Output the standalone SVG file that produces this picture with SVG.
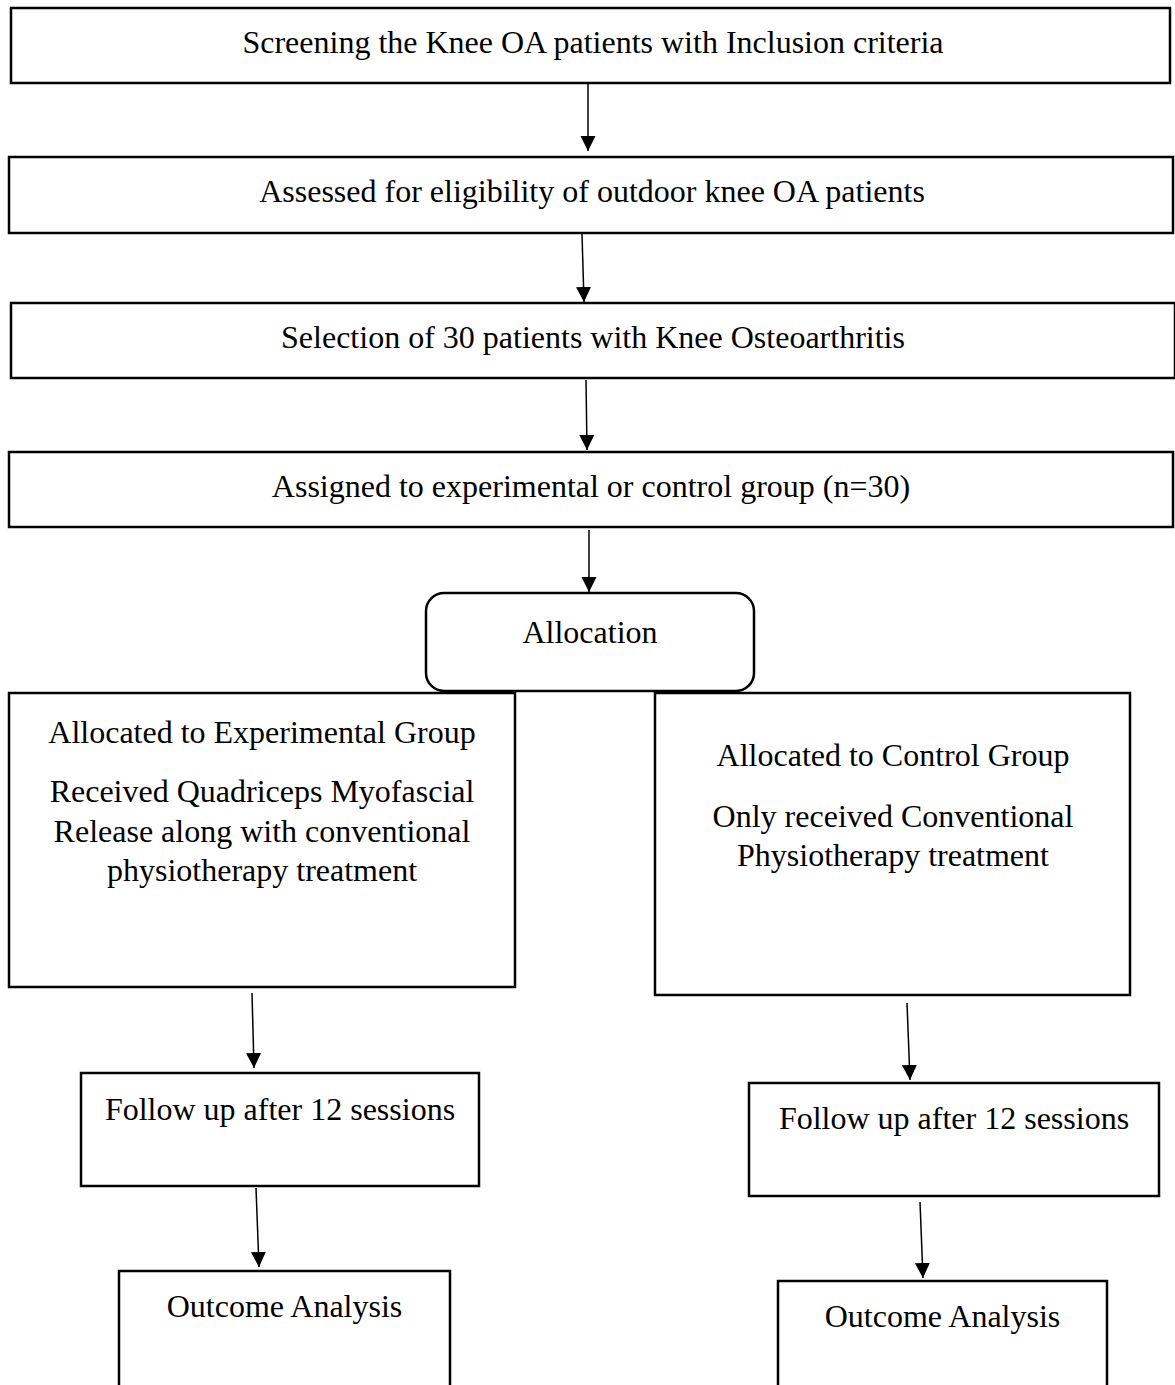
<svg xmlns="http://www.w3.org/2000/svg" width="1175" height="1385" viewBox="0 0 1175 1385">
<style>
.box{fill:#fff;stroke:#000;stroke-width:2.5}
.t{font-family:"Liberation Serif","Times New Roman",serif;font-size:32px;fill:#000;text-anchor:middle}
.c{stroke:#000;stroke-width:1.5;fill:none;marker-end:url(#ah)}
</style>
<defs>
<marker id="ah" markerUnits="userSpaceOnUse" markerWidth="16" markerHeight="16" viewBox="0 -8 16 16" refX="15" refY="0" orient="auto">
<path d="M0,-7.5 L15,0 L0,7.5 z" fill="#000"/>
</marker>
</defs>
<rect width="1175" height="1385" fill="#fff"/>
<g id="connectors">
<line class="c" x1="588" y1="84" x2="588" y2="151"/>
<line class="c" x1="582" y1="234" x2="584" y2="302"/>
<line class="c" x1="586" y1="380" x2="587" y2="450"/>
<line class="c" x1="589" y1="530" x2="589" y2="592"/>
<line class="c" x1="252" y1="993" x2="254" y2="1068"/>
<line class="c" x1="256" y1="1188" x2="259" y2="1267"/>
<line class="c" x1="907" y1="1003" x2="910" y2="1080"/>
<line class="c" x1="920" y1="1202" x2="923" y2="1278"/>
</g>
<g id="n1"><rect class="box" x="11" y="8" width="1159" height="75"/><text class="t" x="593" y="53">Screening the Knee OA patients with Inclusion criteria</text></g>
<g id="n2"><rect class="box" x="9" y="157" width="1164" height="76"/><text class="t" x="592" y="202">Assessed for eligibility of outdoor knee OA patients</text></g>
<g id="n3"><rect class="box" x="11" y="303" width="1164" height="75"/><text class="t" x="593" y="348">Selection of 30 patients with Knee Osteoarthritis</text></g>
<g id="n4"><rect class="box" x="9" y="452" width="1164" height="75"/><text class="t" x="591" y="497">Assigned to experimental or control group (n=30)</text></g>
<g id="n5"><rect class="box" x="426" y="593" width="328" height="98" rx="18"/><text class="t" x="590" y="643">Allocation</text></g>
<g id="n6"><rect class="box" x="9" y="693" width="506" height="294"/>
<text class="t" x="262" y="743">Allocated to Experimental Group</text>
<text class="t" x="262" y="802">Received Quadriceps Myofascial</text>
<text class="t" x="262" y="842">Release along with conventional</text>
<text class="t" x="262" y="881">physiotherapy treatment</text></g>
<g id="n7"><rect class="box" x="655" y="693" width="475" height="302"/>
<text class="t" x="893" y="766">Allocated to Control Group</text>
<text class="t" x="893" y="827">Only received Conventional</text>
<text class="t" x="893" y="866">Physiotherapy treatment</text></g>
<g id="n8"><rect class="box" x="81" y="1073" width="398" height="113"/><text class="t" x="280" y="1120">Follow up after 12 sessions</text></g>
<g id="n9"><rect class="box" x="119" y="1271" width="331" height="125"/><text class="t" x="284.5" y="1317">Outcome Analysis</text></g>
<g id="n10"><rect class="box" x="749" y="1083" width="410" height="113"/><text class="t" x="954" y="1129">Follow up after 12 sessions</text></g>
<g id="n11"><rect class="box" x="778" y="1281" width="329" height="115"/><text class="t" x="942.5" y="1327">Outcome Analysis</text></g>
</svg>
